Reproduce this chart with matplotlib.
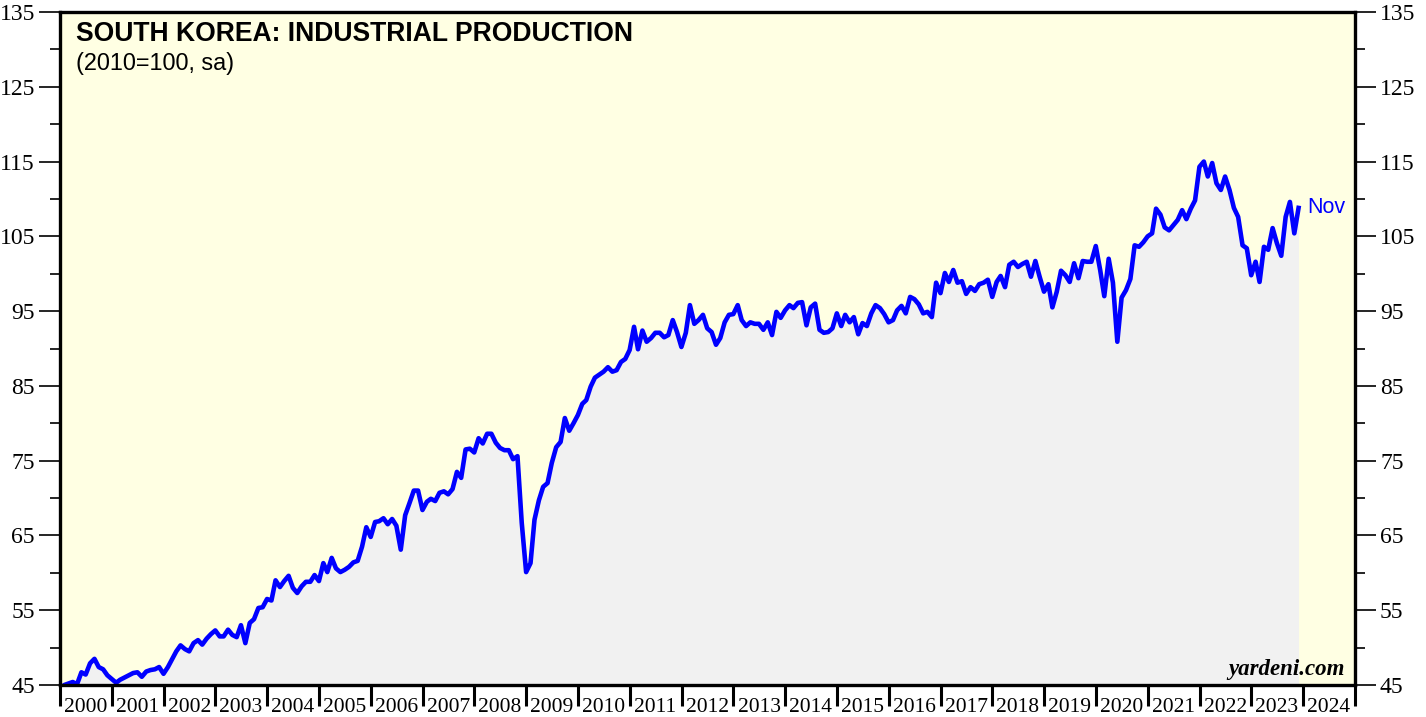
import matplotlib
matplotlib.use("Agg")
import matplotlib.pyplot as plt
import matplotlib.dates as mdates
import pandas as pd
import numpy as np

# monthly index values (2010=100, sa); series starts Dec 1999
start_value = [44.4]
y2000 = [45.0, 45.2, 45.4, 45.1, 46.7, 46.4, 47.9, 48.5, 47.4, 47.1, 46.3, 45.8]
y2001 = [45.3, 45.7, 46.0, 46.3, 46.6, 46.7, 46.1, 46.8, 47.0, 47.1, 47.4, 46.5]
y2002 = [47.4, 48.4, 49.5, 50.3, 49.8, 49.5, 50.6, 51.0, 50.4, 51.2, 51.8, 52.3]
y2003 = [51.5, 51.5, 52.4, 51.7, 51.4, 53.0, 50.6, 53.3, 53.8, 55.3, 55.4, 56.5]
y2004 = [56.3, 59.0, 58.1, 58.9, 59.6, 58.0, 57.3, 58.2, 58.8, 58.8, 59.7, 58.9]
y2005 = [61.3, 60.1, 62.0, 60.6, 60.1, 60.4, 60.8, 61.4, 61.6, 63.5, 66.1, 64.8]
y2006 = [66.8, 66.9, 67.3, 66.5, 67.2, 66.3, 63.1, 67.7, 69.3, 71.0, 71.0, 68.4]
y2007 = [69.5, 69.9, 69.6, 70.7, 70.9, 70.5, 71.2, 73.5, 72.7, 76.5, 76.6, 76.1]
y2008 = [78.0, 77.3, 78.6, 78.6, 77.4, 76.7, 76.4, 76.4, 75.2, 75.6, 66.7, 60.1]
y2009 = [61.3, 67.1, 69.7, 71.5, 72.0, 74.7, 76.8, 77.5, 80.7, 79.0, 80.0, 81.1]
y2010 = [82.6, 83.1, 84.9, 86.1, 86.5, 86.9, 87.5, 86.9, 87.1, 88.2, 88.6, 89.8]
y2011 = [92.9, 89.9, 92.4, 90.9, 91.4, 92.1, 92.1, 91.5, 91.8, 93.8, 92.2, 90.2]
y2012 = [92.1, 95.8, 93.3, 93.8, 94.5, 92.7, 92.2, 90.5, 91.4, 93.5, 94.5, 94.6]
y2013 = [95.8, 93.8, 93.0, 93.5, 93.3, 93.3, 92.5, 93.5, 91.8, 94.9, 94.1, 95.1]
y2014 = [95.8, 95.4, 96.1, 96.2, 93.1, 95.5, 96.0, 92.5, 92.1, 92.2, 92.7, 94.7]
y2015 = [93.0, 94.5, 93.5, 94.2, 91.9, 93.4, 93.0, 94.7, 95.8, 95.4, 94.6, 93.5]
y2016 = [93.8, 95.1, 95.7, 94.7, 96.9, 96.6, 95.9, 94.7, 94.9, 94.2, 98.8, 97.4]
y2017 = [100.1, 98.9, 100.5, 98.8, 99.0, 97.3, 98.2, 97.7, 98.6, 98.8, 99.2, 96.9]
y2018 = [98.9, 99.7, 98.2, 101.2, 101.6, 100.9, 101.3, 101.6, 99.6, 101.7, 99.6, 97.6]
y2019 = [98.6, 95.5, 97.6, 100.4, 99.8, 98.9, 101.4, 99.4, 101.7, 101.6, 101.6, 103.7]
y2020 = [100.5, 97.0, 102.0, 98.8, 90.9, 96.8, 97.8, 99.3, 103.8, 103.6, 104.2, 105.0]
y2021 = [105.4, 108.7, 107.9, 106.2, 105.8, 106.5, 107.2, 108.5, 107.3, 108.7, 109.8, 114.3]
y2022 = [115.0, 113.0, 114.8, 112.1, 111.2, 113.0, 111.2, 108.8, 107.6, 103.8, 103.4, 99.8]
y2023 = [101.6, 98.9, 103.6, 103.2, 106.1, 104.1, 102.4, 107.6, 109.6, 105.4, 108.8]

y_ticks = list(range(45, 136, 10))

values = (start_value + y2000 + y2001 + y2002 + y2003 + y2004 + y2005 + y2006
          + y2007 + y2008 + y2009 + y2010 + y2011 + y2012 + y2013 + y2014
          + y2015 + y2016 + y2017 + y2018 + y2019 + y2020 + y2021 + y2022 + y2023)
dates = pd.date_range("1999-12-31", periods=len(values), freq="ME")
s = pd.Series(values, index=dates)

fig = plt.figure(figsize=(14.26, 7.17), dpi=100)
ax = fig.add_axes([60 / 1426, 1 - 685 / 717, 1295 / 1426, 673 / 717])
ax.set_facecolor("#ffffe3")

ax.fill_between(s.index, s.values, 45, color="#f1f1f1", lw=0, zorder=1)
ax.plot(s.index, s.values, color="#0000ff", lw=3.3, zorder=3,
        solid_joinstyle="round")

ax.set_ylim(45, 135)
ax.set_xlim(pd.Timestamp("2000-01-01"), pd.Timestamp("2025-01-01"))

# y axis, labels on both sides
serif = "Liberation Serif"
ax.set_yticks(y_ticks)
ax.set_yticks(np.arange(50, 135, 10), minor=True)
ax.tick_params(axis="y", which="major", direction="out", length=15, width=1.2,
               labelsize=17, pad=3, left=True, right=True,
               labelleft=True, labelright=True)
ax.tick_params(axis="y", which="minor", direction="out", length=7, width=1.2,
               left=True, right=True)
for lab in ax.get_yticklabels():
    lab.set_fontfamily(serif)

# x axis: ticks at year boundaries, labels mid-year
ax.xaxis.set_major_locator(mdates.YearLocator())
ax.xaxis.set_minor_locator(mdates.YearLocator(month=7, day=1))
ax.xaxis.set_major_formatter(plt.NullFormatter())
ax.xaxis.set_minor_formatter(mdates.DateFormatter("%Y"))
ax.tick_params(axis="x", which="major", direction="out", length=15, width=2.2)
ax.tick_params(axis="x", which="minor", length=0, labelsize=15.5, pad=9.5)
for lab in ax.get_xticklabels(minor=True):
    lab.set_fontfamily(serif)

for sp in ax.spines.values():
    sp.set_linewidth(2.4)
    sp.set_zorder(5)

sans = "Liberation Sans"
ax.text(0.0125, 0.968, "SOUTH KOREA: INDUSTRIAL PRODUCTION", transform=ax.transAxes,
        fontsize=19.1, fontweight="bold", family=sans, va="center", ha="left")
ax.text(0.0125, 0.924, "(2010=100, sa)", transform=ax.transAxes,
        fontsize=16.9, family=sans, va="center", ha="left")
ax.text(0.992, 0.023, "yardeni.com", transform=ax.transAxes, fontsize=16.5,
        fontweight="bold", style="italic", family=serif, ha="right", va="center")
ax.annotate("Nov", xy=(s.index[-1], s.values[-1]), xytext=(6, 0),
            textcoords="offset points", color="#0000ff", fontsize=15.5,
            family=sans, va="center", ha="left")

fig.savefig("out.png", dpi=100, facecolor="white")
